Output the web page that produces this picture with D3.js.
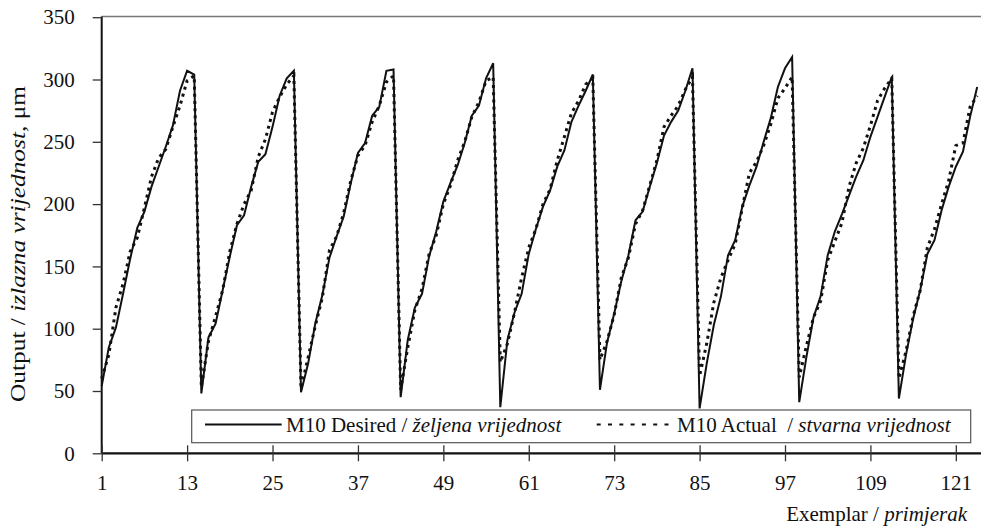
<!DOCTYPE html>
<html>
<head>
<meta charset="utf-8">
<script src="https://cdn.jsdelivr.net/npm/d3@7"></script>
<style>
  html, body { margin: 0; padding: 0; background: #fff; }
  svg { display: block; }
  text { font-family: "Liberation Serif", "Times New Roman", serif; fill: #111; }
</style>
</head>
<body>
<svg id="chart" width="981" height="528"></svg>
<script>
// ---- data ----
const exemplars = d3.range(1, 125); // 1..124
const desired = [
  54, 85, 101, 128, 156, 181, 194, 214, 230, 246, 263, 291, 307, 304,
  48, 93, 104, 131, 158, 183, 191, 214, 234, 240, 262, 287, 301, 307,
  49, 72, 104, 127, 157, 174, 190, 217, 241, 249, 271, 278, 307, 308,
  45, 91, 117, 128, 158, 178, 202, 217, 231, 249, 271, 279, 301, 313,
  37, 91, 113, 128, 160, 180, 198, 211, 230, 243, 266, 279, 291, 304,
  51, 89, 112, 138, 159, 187, 194, 214, 233, 255, 266, 275, 291, 309,
  36, 72, 103, 126, 159, 171, 198, 215, 230, 250, 269, 294, 309, 318,
  41, 77, 109, 126, 159, 178, 192, 207, 222, 235, 254, 270, 286, 302,
  44, 79, 108, 131, 160, 171, 195, 214, 230, 242, 270, 294
];
const actual = [
  60, 79, 117, 136, 162, 173, 197, 222, 237, 244, 262, 279, 299, 303,
  53, 90, 110, 131, 162, 184, 200, 211, 238, 252, 274, 286, 296, 303,
  52, 77, 102, 125, 163, 174, 193, 219, 239, 247, 266, 279, 298, 303,
  51, 85, 115, 132, 160, 175, 200, 215, 235, 250, 270, 282, 299, 302,
  73, 88, 113, 141, 165, 180, 200, 212, 235, 254, 273, 283, 296, 301,
  75, 90, 111, 141, 157, 184, 195, 215, 235, 262, 271, 279, 292, 302,
  62, 88, 121, 141, 155, 168, 197, 225, 234, 247, 264, 285, 293, 302,
  61, 86, 109, 122, 155, 170, 185, 214, 233, 245, 263, 283, 293, 301,
  60, 82, 110, 131, 165, 180, 200, 219, 247, 249, 278, 287
];
const xTicks = [1, 13, 25, 37, 49, 61, 73, 85, 97, 109, 121];
const yTicks = [0, 50, 100, 150, 200, 250, 300, 350];
const seriesNames = ["M10 Desired", "M10 Actual"];

// ---- layout ----
const svg = d3.select("#chart");
const pL = 101.7, pR = 981, pT = 16.5, pB = 453.3;
const x = d3.scaleLinear().domain([1, 125]).range([pL, 984.3]);
const y = d3.scaleLinear().domain([0, 350]).range([pB, 17.2]);
const FS = 21;

svg.append("defs").append("clipPath").attr("id", "clip")
  .append("rect").attr("x", pL - 2).attr("y", 0).attr("width", pR - pL + 2).attr("height", pB + 2);

// top border
svg.append("line").attr("x1", pL).attr("x2", pR).attr("y1", pT).attr("y2", pT)
  .attr("stroke", "#777").attr("stroke-width", 1.5);

// y axis
const yAxis = svg.append("g").attr("transform", `translate(${pL},0)`)
  .call(d3.axisLeft(y).tickValues(yTicks).tickSize(9).tickPadding(18).tickFormat(d3.format("d")));
yAxis.select(".domain").attr("stroke", "#111").attr("stroke-width", 2).attr("d", `M0,${pT}V${pB}`);
yAxis.selectAll(".tick line").attr("stroke", "#333").attr("stroke-width", 1.3);
yAxis.selectAll(".tick text").attr("font-size", FS).attr("font-family", "Liberation Serif").attr("fill", "#111");

// lines
const lineGen = d3.line().x((d, i) => x(exemplars[i])).y(d => y(d));
const plot = svg.append("g").attr("clip-path", "url(#clip)");
plot.append("path").datum(actual).attr("d", lineGen)
  .attr("fill", "none").attr("stroke", "#111").attr("stroke-width", 3)
  .attr("stroke-dasharray", "3,4.2");
plot.append("path").datum(desired).attr("d", lineGen)
  .attr("fill", "none").attr("stroke", "#111").attr("stroke-width", 2)
  .attr("stroke-linejoin", "miter");

// legend
const lg = svg.append("g");
lg.append("rect").attr("x", 191.7).attr("y", 410).attr("width", 779).attr("height", 32.7)
  .attr("fill", "#fff").attr("stroke", "#555").attr("stroke-width", 1.2);
lg.append("line").attr("x1", 205).attr("x2", 281.7).attr("y1", 424.5).attr("y2", 424.5)
  .attr("stroke", "#111").attr("stroke-width", 2);
const t1 = lg.append("text").attr("x", 286).attr("y", 432).attr("font-size", FS);
t1.append("tspan").text(seriesNames[0] + " / ");
t1.append("tspan").attr("font-style", "italic").text("željena vrijednost");
lg.append("line").attr("x1", 596.7).attr("x2", 671.7).attr("y1", 424.5).attr("y2", 424.5)
  .attr("stroke", "#111").attr("stroke-width", 1.8).attr("stroke-dasharray", "4,7.3");
const t2 = lg.append("text").attr("x", 677).attr("y", 432).attr("font-size", FS);
t2.append("tspan").text(seriesNames[1] + "\u00a0 / ");
t2.append("tspan").attr("font-style", "italic").text("stvarna vrijednost");

// x axis
const xAxis = svg.append("g").attr("transform", `translate(0,${pB})`)
  .call(d3.axisBottom(x).tickValues(xTicks).tickSize(8).tickPadding(14).tickFormat(d3.format("d")));
xAxis.select(".domain").attr("stroke", "#111").attr("stroke-width", 2.2).attr("d", `M${pL},0H${pR}`);
xAxis.selectAll(".tick line").attr("stroke", "#333").attr("stroke-width", 1.3).attr("y1", -8);
xAxis.selectAll(".tick text").attr("font-size", FS).attr("font-family", "Liberation Serif").attr("fill", "#111");

// axis titles
const xt = svg.append("text").attr("x", 967).attr("y", 521).attr("text-anchor", "end").attr("font-size", FS);
xt.append("tspan").text("Exemplar / ");
xt.append("tspan").attr("font-style", "italic").text("primjerak");

const yt = svg.append("text").attr("transform", "translate(25,244) rotate(-90)")
  .attr("text-anchor", "middle").attr("font-size", FS)
  .attr("textLength", 316).attr("lengthAdjust", "spacingAndGlyphs");
yt.append("tspan").text("Output / ");
yt.append("tspan").attr("font-style", "italic").text("izlazna vrijednost");
yt.append("tspan").text(", μm");
</script>
</body>
</html>
